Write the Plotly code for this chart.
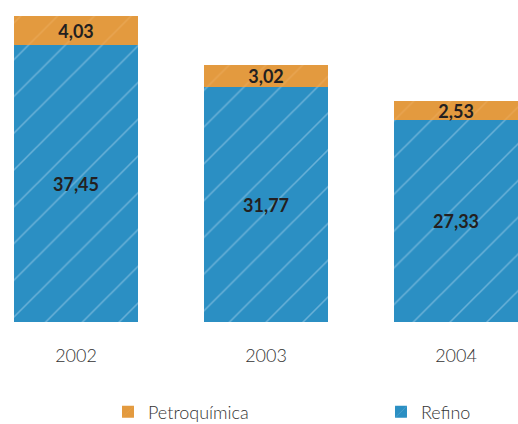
import plotly.graph_objects as go

years = ["2002", "2003", "2004"]
refino = [37.45, 31.77, 27.33]
petroquimica = [4.03, 3.02, 2.53]

xpos = [0, 1, 2]
blue = "#2b8fc3"
orange = "#e39a3f"

fig = go.Figure()
fig.add_trace(go.Bar(
    x=xpos, y=refino, name="Refino", width=0.65,
    marker=dict(color=blue, line=dict(width=0),
                pattern=dict(shape="/", fgcolor="#a9d3ec", bgcolor=blue, size=26, solidity=0.06)),
    texttemplate="%{y:.2f}", textposition="inside", insidetextanchor="middle",
    constraintext="none",
    textfont=dict(family="Lato", size=18, color="#231f20", weight="bold"),
    legend="legend2",
))
fig.add_trace(go.Bar(
    x=xpos, y=petroquimica, name="Petroquímica", width=0.65,
    marker=dict(color=orange, line=dict(width=0),
                pattern=dict(shape="/", fgcolor="#eeb066", bgcolor=orange, size=26, solidity=0.06)),
    texttemplate="%{y:.2f}", textposition="inside", insidetextanchor="middle",
    constraintext="none",
    textfont=dict(family="Lato", size=18, color="#231f20", weight="bold"),
    legend="legend",
))

legfont = dict(family="Lato", size=18, color="#333333", weight=300)
fig.update_layout(
    width=518, height=424,
    barmode="stack",
    separators=",.",
    paper_bgcolor="white", plot_bgcolor="white",
    margin=dict(l=0, r=0, t=0, b=102, autoexpand=False),
    font=dict(family="Lato", size=17, color="#333333"),
    xaxis=dict(range=[-0.4, 2.326], tickvals=xpos, ticktext=years,
               showgrid=False, zeroline=False, showline=False, ticks="",
               ticklabelstandoff=21,
               tickfont=dict(family="Lato", size=18, color="#333333", weight=300)),
    yaxis=dict(range=[0, 43.6], visible=False),
    showlegend=True,
    legend=dict(orientation="h", x=0.2085, xanchor="left", y=-0.28, yanchor="middle",
                font=legfont),
    legend2=dict(orientation="h", x=0.7355, xanchor="left", y=-0.28, yanchor="middle",
                 font=legfont),
)

fig.write_html("out.html", config={"displayModeBar": False},
               post_script="document.body.style.margin='0';document.body.style.overflow='hidden';")
